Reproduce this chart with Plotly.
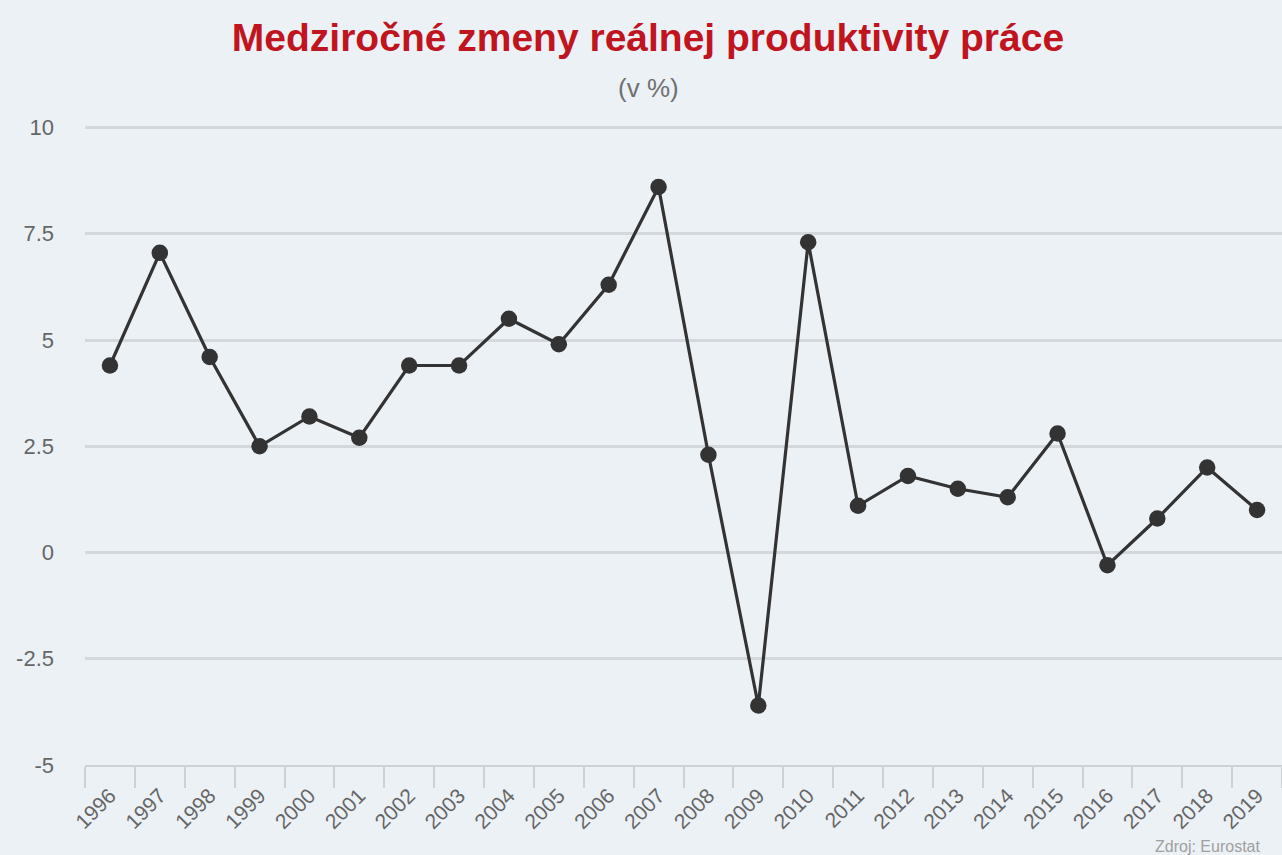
import plotly.graph_objects as go

years = [str(y) for y in range(1996, 2020)]
values = [4.4, 7.05, 4.6, 2.5, 3.2, 2.7, 4.4, 4.4, 5.5, 4.9, 6.3, 8.6,
          2.3, -3.6, 7.3, 1.1, 1.8, 1.5, 1.3, 2.8, -0.3, 0.8, 2.0, 1.0]
y_ticks = [-5, -2.5, 0, 2.5, 5, 7.5, 10]
y_labels = ["-5", "-2.5", "0", "2.5", "5", "7.5", "10"]

title_text = "Medziročné zmeny reálnej produktivity práce"
subtitle_text = "(v %)"
source_text = "Zdroj: Eurostat"

BG = "#ECF1F6"
FONT = "Liberation Sans, Arial, sans-serif"

Y_MIN, Y_MAX = -5, 10.2
PX_PER_UNIT = 42.5
TOP = 127 - (Y_MAX - 10) * PX_PER_UNIT
PLOT_H = (Y_MAX - Y_MIN) * PX_PER_UNIT
PLOT_W = 1197

fig = go.Figure()
fig.add_trace(go.Scatter(
    x=years, y=values, mode="lines+markers",
    line=dict(color="#333333", width=3.2),
    marker=dict(color="#333333", size=16.5),
    hoverinfo="x+y", showlegend=False,
))

fig.update_layout(
    width=1282, height=855,
    paper_bgcolor=BG, plot_bgcolor=BG,
    margin=dict(l=85, r=0, t=TOP, b=90),
    font=dict(family=FONT, color="#666666"),
    title=dict(
        text=f"<b>{title_text}</b>",
        x=(648 - 85) / PLOT_W, xanchor="center", xref="paper",
        y=1 - 37 / 855, yanchor="middle",
        font=dict(size=39, color="#C0141F", family=FONT),
    ),
    annotations=[
        dict(text=subtitle_text, xref="paper", yref="paper",
             x=(648 - 85) / PLOT_W, y=1 + (TOP - 88) / PLOT_H,
             xanchor="center", yanchor="middle", showarrow=False,
             font=dict(size=26, color="#707070", family=FONT)),
        dict(text=source_text, xref="paper", yref="paper",
             x=(1153 - 85) / PLOT_W, y=-(846 - 765) / PLOT_H,
             xanchor="left", yanchor="middle",
             showarrow=False, font=dict(size=16, color="#a0a0a0", family=FONT)),
    ],
    xaxis=dict(
        type="category", range=[-0.5, 23.5],
        tickson="boundaries", ticks="outside", ticklen=21, tickwidth=1.5,
        tickcolor="#cdd1d6", showline=True, linecolor="#cdd1d6", linewidth=2,
        showgrid=False, tickangle=-45, ticklabelstandoff=8,
        tickfont=dict(size=21, color="#666666", family=FONT),
    ),
    yaxis=dict(
        range=[Y_MIN, Y_MAX], tickvals=y_ticks, ticktext=y_labels,
        showgrid=True, gridcolor="#d4d8dd", gridwidth=3,
        zeroline=False, showline=False, ticks="",
        ticklabelstandoff=30,
        tickfont=dict(size=22, color="#666666", family=FONT),
    ),
)

fig.write_html(
    "out.html",
    config={"displayModeBar": False},
    post_script="document.body.style.margin='0';document.body.style.overflow='hidden';",
)
